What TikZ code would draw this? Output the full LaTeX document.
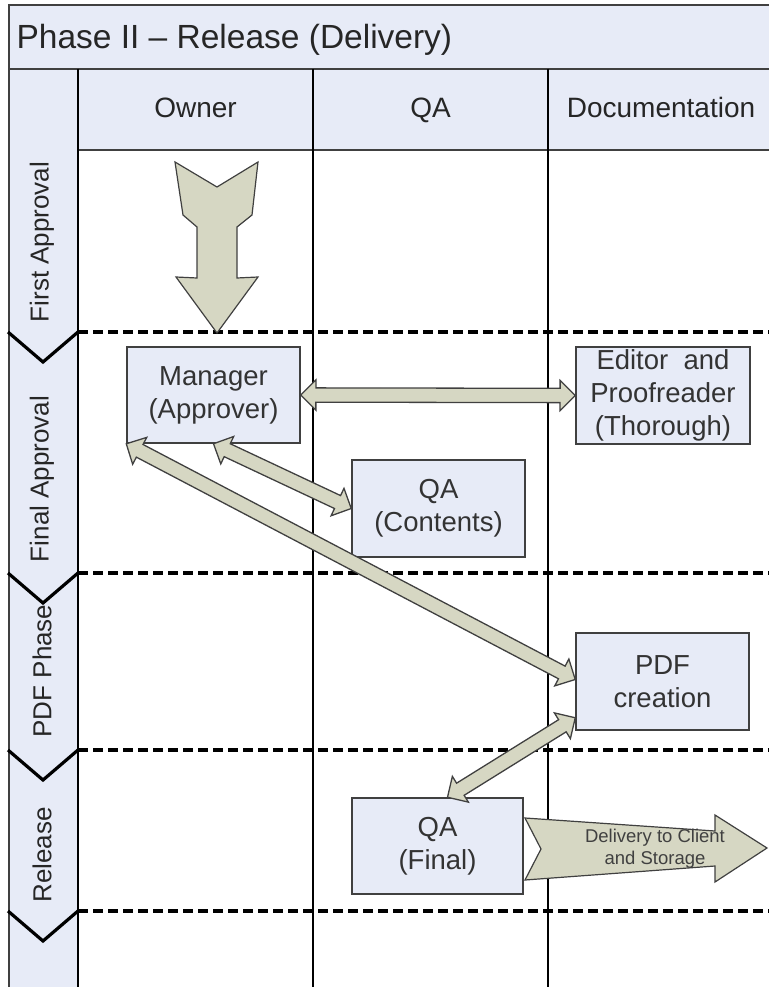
\documentclass[tikz,border=0pt]{standalone}
\usepackage{fontspec}
\setmainfont{Liberation Sans}
\usetikzlibrary{shapes.arrows,calc}

\definecolor{lanefill}{RGB}{231,235,247}
\definecolor{arrowfill}{RGB}{214,215,195}
\definecolor{edgegray}{RGB}{64,64,64}

\tikzset{
  stepbox/.style={draw=edgegray, line width=1.5pt, fill=lanefill, inner sep=1pt, align=center,
    font=\fontsize{27.5}{33}\selectfont, text=black!80},
  lanelabel/.style={rotate=90, font=\fontsize{26}{30}\selectfont, text=black!85},
  colhead/.style={font=\fontsize{28}{32}\selectfont, text=black!85},
  phaseline/.style={line width=3.2pt, dash pattern=on 10pt off 5pt},
  chevron/.style={line width=3.2pt},
  bigarrow/.style={draw=edgegray, line width=1.2pt, fill=arrowfill, line join=miter},
  fatlink/.style={double arrow, draw=edgegray, line width=1.3pt, fill=arrowfill,
    inner xsep=0pt, inner ysep=6.5pt, double arrow head extend=8pt, double arrow tip angle=90}
}

% fat two-headed arrow from #1 to #2
\newcommand{\linkarrow}[2]{%
  \path let \p1=(#1), \p2=(#2), \n1={atan2(\y2-\y1,\x2-\x1)}, \n2={veclen(\x2-\x1,\y2-\y1)} in
    node[fatlink, minimum height=\n2, rotate=\n1] at ($(\p1)!0.5!(\p2)$) {};}

\begin{document}
\begin{tikzpicture}[x=1pt, y=-1pt]
\useasboundingbox (0,0) rectangle (769,987);

% lanes and header
\fill[lanefill] (9,5) rectangle (769,150);
\fill[lanefill] (9,150) rectangle (78,987);
\draw[line width=2pt, edgegray] (769,5) -- (9,5) -- (9,987);
\draw[line width=2pt, edgegray] (9,69) -- (769,69);
\draw[line width=1.5pt, edgegray] (78,150) -- (769,150);
\draw[line width=1.5pt] (78,69) -- (78,987);
\draw[line width=1.2pt] (313,69) -- (313,987);
\draw[line width=1.2pt] (548,69) -- (548,987);

\node[anchor=base west, font=\fontsize{33.5}{36}\selectfont, text=black!85] (title) at (13,49) {Phase II \textendash{} Release (Delivery)};
\node[colhead, anchor=base] (owner) at (195.5,118) {Owner};
\node[colhead, anchor=base] (qa) at (430.5,118) {QA};
\node[colhead, anchor=base] (doc) at (661,118) {Documentation};

% phase separators
\foreach \y in {332,573,750,911} {
  \draw[phaseline] (78,\y) -- (769,\y);
  \draw[chevron] (8,\y) -- (43,\y+30) -- (78,\y);
}
\node[lanelabel] (first) at (42,242) {First Approval};
\node[lanelabel] (final) at (42,479) {Final Approval};
\node[lanelabel] (pdfphase) at (42,671) {PDF Phase};
\node[lanelabel] (release) at (42,855) {Release};

% entry arrow
\draw[bigarrow] (175,162) -- (217,187) -- (258,162) -- (252,215) -- (237,227) -- (237,278)
  -- (258,277) -- (217,333) -- (176,277) -- (197,278) -- (197,227) -- (183,215) -- cycle;

% steps
\node[stepbox, minimum width=173pt, minimum height=96pt] (mgr) at (213.5,395) {Manager\\(Approver)};
\node[stepbox, minimum width=174pt, minimum height=97pt] (editor) at (663,395.5) {Editor~ and\\Proofreader\\(Thorough)};
\node[stepbox, minimum width=173pt, minimum height=97pt] (qacont) at (438.5,508.5) {QA\\(Contents)};
\node[stepbox, minimum width=173pt, minimum height=97pt] (pdf) at (662.5,681.5) {PDF\\creation};
\node[stepbox, minimum width=171pt, minimum height=96pt] (qafinal) at (437.5,846) {QA\\(Final)};

% links
\linkarrow{mgr.east}{editor.west}
\linkarrow{mgr.south}{qacont.west}
\linkarrow{mgr.south west}{[yshift=2pt]pdf.west}
\linkarrow{[yshift=13pt]pdf.south west}{[xshift=10pt]qafinal.north}

% delivery
\draw[bigarrow] (525,818) -- (715,831) -- (715,815) -- (767,848) -- (715,882) -- (715,866)
  -- (525,880) -- (541,849) -- cycle;
\node[font=\fontsize{18.5}{22}\selectfont, align=center, text=black!75] (delivery) at (655,849) {Delivery to Client\\and Storage};
\end{tikzpicture}
\end{document}
